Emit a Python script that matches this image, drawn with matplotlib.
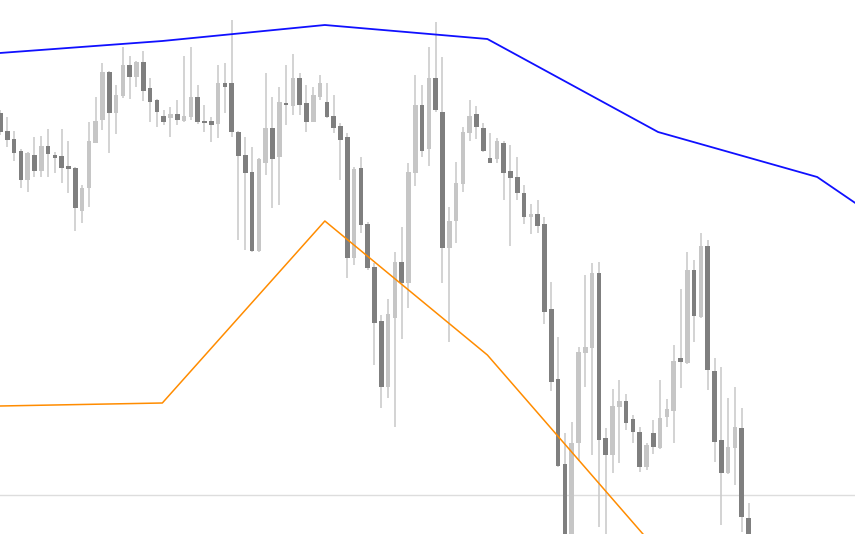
"""
Candlestick chart with two overlay lines and a reference level.
"""

import numpy as np
import matplotlib
matplotlib.use("Agg")
import matplotlib.pyplot as plt

# ohlc values, one entry per candle
opens = [487, 469, 461, 449, 420, 445, 429, 454, 445, 444, 434, 432, 389, 412, 457, 480,
         528, 487, 504, 535, 523, 538, 512, 500, 484, 482, 486, 479, 483, 503, 479, 479,
         476, 517, 517, 468, 445, 428, 349, 437, 472, 443, 497, 494, 522, 497, 478, 503,
         498, 484, 474, 463, 342, 432, 376, 333, 279, 213, 282, 338, 317, 427, 495, 451,
         522, 488, 352, 379, 416, 467, 486, 472, 442, 441, 457, 429, 423, 407, 383, 386,
         376, 291, 221, 136, 55, 157, 247, 252, 327, 162, 145, 193, 199, 181, 168, 133,
         167, 152, 183, 189, 242, 237, 330, 283, 354, 229, 160, 127, 152, 172, 82]
highs = [490, 483, 469, 451, 448, 463, 464, 471, 448, 471, 459, 433, 415, 478, 503, 537,
         529, 515, 553, 544, 539, 549, 522, 501, 490, 493, 500, 544, 553, 515, 495, 483,
         535, 537, 580, 469, 463, 453, 442, 527, 503, 513, 535, 546, 527, 515, 513, 525,
         517, 505, 477, 467, 433, 443, 378, 337, 285, 301, 348, 373, 437, 525, 515, 553,
         578, 543, 393, 438, 473, 500, 494, 477, 467, 462, 459, 455, 443, 415, 396, 400,
         383, 318, 263, 167, 178, 253, 325, 337, 338, 172, 211, 220, 206, 185, 173, 157,
         180, 220, 201, 255, 311, 348, 340, 367, 360, 242, 233, 202, 213, 192, 97]
lows = [465, 453, 439, 412, 408, 423, 423, 423, 427, 417, 407, 369, 377, 393, 457, 470,
        447, 466, 502, 501, 513, 499, 478, 473, 475, 463, 475, 478, 480, 476, 468, 458,
        462, 487, 463, 360, 350, 348, 348, 425, 392, 395, 475, 485, 485, 468, 478, 500,
        482, 467, 420, 322, 335, 367, 330, 235, 192, 202, 173, 261, 292, 414, 443, 434,
        488, 317, 258, 357, 408, 459, 461, 448, 437, 437, 400, 354, 400, 376, 366, 367,
        276, 209, 133, 45, 45, 139, 213, 145, 73, 55, 127, 137, 170, 157, 128, 130,
        146, 151, 173, 157, 212, 236, 258, 282, 210, 138, 75, 126, 115, 68, 50]
closes = [468, 460, 447, 420, 447, 429, 454, 446, 442, 432, 431, 392, 412, 459, 479, 528,
          487, 505, 535, 523, 538, 509, 498, 488, 478, 486, 480, 484, 503, 478, 477, 475,
          517, 513, 468, 444, 427, 349, 441, 472, 441, 498, 495, 522, 495, 478, 505, 517,
          483, 472, 460, 342, 431, 375, 332, 277, 213, 286, 338, 317, 428, 495, 449, 522,
          490, 352, 379, 417, 468, 484, 473, 449, 437, 459, 427, 422, 407, 383, 386, 374,
          288, 218, 134, 55, 157, 248, 253, 327, 160, 145, 194, 199, 177, 168, 133, 155,
          153, 182, 191, 239, 238, 330, 284, 354, 230, 158, 127, 153, 173, 83, 55]

# overlay lines (higher timeframe), positions in candle index units
blue_pos = [-0.1, 23.8, 47.7, 71.6, 96.7, 120.1, 125.7]
blue_vals = [547, 559, 575, 561, 468, 423, 397]
orange_pos = [-0.1, 23.8, 47.7, 71.6, 95.5]
orange_vals = [194, 197, 379, 245, 58]

ref_level = 105

DARK = "#7f7f7f"
LIGHT = "#c6c6c6"
WICK = "#cccccc"

fig = plt.figure(figsize=(8.55, 5.34), dpi=100)
ax = fig.add_axes([0, 0, 1, 1])

o = np.array(opens, dtype=float)
h = np.array(highs, dtype=float)
l = np.array(lows, dtype=float)
c = np.array(closes, dtype=float)
x = np.arange(len(o))

ax.axhline(ref_level, color="#dddddd", lw=1.0, zorder=0)

ax.vlines(x, l, h, color=WICK, lw=1.2, zorder=1)

up = c >= o
body_lo = np.minimum(o, c)
body_h = np.maximum(np.abs(c - o), 1.2)
colors = np.where(up, LIGHT, DARK)
ax.bar(x, body_h, bottom=body_lo, width=0.66, color=colors, linewidth=0, zorder=2)

ax.plot(blue_pos, blue_vals, color="#1010ff", lw=1.3, zorder=3)
ax.plot(orange_pos, orange_vals, color="#ff8c00", lw=1.1, zorder=3)

ax.set_xlim(-0.07, 125.66)
ax.set_ylim(66, 600)
ax.axis("off")

fig.savefig("out.png", dpi=100, facecolor="white")
plt.close(fig)
